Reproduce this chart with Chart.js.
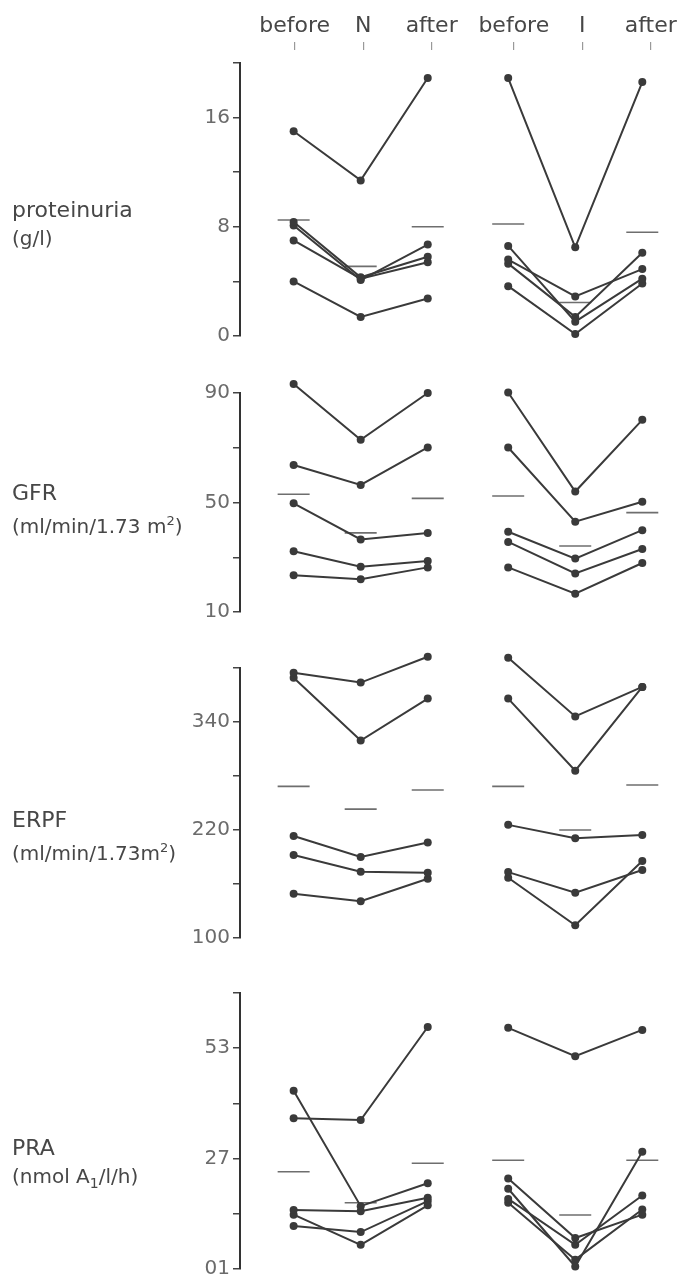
<!DOCTYPE html>
<html>
<head>
<meta charset="utf-8">
<script src="https://cdn.jsdelivr.net/npm/chart.js@4/dist/chart.umd.min.js"></script>
<style>
  body { margin: 0; background: #fff; width: 680px; height: 1279px; position: relative; overflow: hidden;
         font-family: "DejaVu Sans", sans-serif; color: #474747; }
  canvas { position: absolute; left: 0; }
  .lbl { position: absolute; left: 12px; font-size: 20px; line-height: 28px; white-space: nowrap; }
  .lbl b { font-weight: normal; font-size: 22px; }
</style>
</head>
<body>
<canvas id="head" width="680" height="60" style="top:0"></canvas>
<canvas id="c1" width="680" height="323" style="top:33px"></canvas>
<canvas id="c2" width="680" height="269" style="top:363px"></canvas>
<canvas id="c3" width="680" height="320" style="top:638px"></canvas>
<canvas id="c4" width="680" height="326" style="top:963px"></canvas>

<div class="lbl" style="top:196px"><b>proteinuria</b><br>(g/l)</div>
<div class="lbl" style="top:479px"><b>GFR</b><br>(ml/min/1.73 m<sup style="font-size:13px">2</sup>)</div>
<div class="lbl" style="top:806px"><b>ERPF</b><br>(ml/min/1.73m<sup style="font-size:13px">2</sup>)</div>
<div class="lbl" style="top:1134px"><b>PRA</b><br>(nmol A<sub style="font-size:14px">1</sub>/l/h)</div>

<script>
// column headings and where they sit on the x scale (N group, then I group)
const headings = ['before', 'N', 'after', 'before', 'I', 'after'];
const xPos = [0, 1, 2, 3.2, 4.2, 5.2];

// proteinuria (g/l): one row per patient, before / during / after
const protN = [[15.0, 11.4, 18.9], [8.35, 4.3, 5.8], [8.1, 4.1, 6.7], [7.0, 4.2, 5.4], [4.0, 1.4, 2.75]];
const protI = [[18.9, 6.5, 18.6], [6.6, 1.05, 4.2], [5.6, 2.9, 4.9], [5.3, 1.4, 6.1], [3.65, 0.15, 3.85]];
const protMeanN = [8.5, 5.1, 8.0];
const protMeanI = [8.2, 2.45, 7.6];
const protTicks = [0, 4, 8, 12, 16, 20];
const protLabels = ['0', '', '8', '', '16', ''];

// GFR (ml/min/1.73 m2)
const gfrN = [[93.3, 72.9, 90.0], [63.7, 56.4, 70.1], [49.7, 36.5, 38.9], [32.2, 26.5, 28.6], [23.4, 22.0, 26.3]];
const gfrI = [[90.2, 54.0, 80.2], [70.1, 43.0, 50.3], [39.3, 29.5, 39.9], [35.6, 24.1, 33.0], [26.3, 16.7, 27.9]];
const gfrMeanN = [53.0, 38.9, 51.5];
const gfrMeanI = [52.4, 34.1, 46.3];
const gfrTicks = [10, 30, 50, 70, 90];
const gfrLabels = ['10', '', '50', '', '90'];

// ERPF (ml/min/1.73 m2)
const erpfN = [[394.6, 383.8, 412.5], [389.1, 319.4, 366.0], [213.4, 190.0, 206.0], [192.2, 173.7, 172.5], [149.1, 140.8, 165.8]];
const erpfI = [[411.4, 346.2, 379.0], [366.0, 285.9, 379.0], [225.7, 210.8, 214.5], [173.2, 150.2, 175.5], [167.0, 114.1, 185.5]];
const erpfMeanN = [268.5, 243.2, 264.4];
const erpfMeanI = [268.5, 220.0, 270.0];
const erpfTicks = [100, 160, 220, 280, 340, 400];
const erpfLabels = ['100', '', '220', '', '340', ''];

// PRA (nmol A1/l/h)
const praN = [[43.0, 15.8, 21.2], [36.5, 36.1, 58.0], [14.9, 14.6, 17.8], [13.8, 6.7, 16.0], [11.1, 9.7, 17.0]];
const praI = [[57.8, 51.1, 57.3], [22.3, 8.3, 13.8], [19.9, 1.6, 28.6], [17.5, 6.7, 18.3], [16.6, 3.2, 15.0]];
const praMeanN = [23.9, 16.6, 25.9];
const praMeanI = [26.6, 13.7, 26.6];
const praTicks = [1, 14, 27, 40, 53, 66];
const praLabels = ['01', '', '27', '', '53', ''];

const FONT = '"DejaVu Sans", sans-serif';
const INK = '#3a3a3a';
const X_MIN = -0.8, X_MAX = 5.5;

// points that sit a little above the top tick would otherwise be skipped,
// so give the datasets some headroom while they are drawn
const headroom = {
  id: 'headroom',
  beforeDatasetsDraw(chart) { chart.$top = chart.chartArea.top; chart.chartArea.top -= 30; },
  afterDatasetsDraw(chart) { chart.chartArea.top = chart.$top; }
};

function patientLines(rows, offset) {
  return rows.map(r => ({
    data: r.map((v, i) => ({ x: xPos[offset + i], y: v })),
    showLine: true,
    borderColor: INK,
    backgroundColor: INK,
    borderWidth: 2,
    pointRadius: 4,
    pointBorderWidth: 0,
    clip: false
  }));
}

function meanBars(vals, offset) {
  return {
    data: vals.map((v, i) => ({ x: xPos[offset + i], y: v })),
    showLine: false,
    pointStyle: 'line',
    pointRadius: 16,
    borderColor: '#6e6e6e',
    borderWidth: 1.6,
    clip: false
  };
}

function panel(id, n, i, meanN, meanI, ticks, labels) {
  new Chart(document.getElementById(id), {
    type: 'scatter',
    data: {
      datasets: [...patientLines(n, 0), ...patientLines(i, 3), meanBars(meanN, 0), meanBars(meanI, 3)]
    },
    options: {
      responsive: false,
      animation: false,
      layout: { padding: { top: 30, bottom: 20, left: 0, right: 6 } },
      plugins: { legend: { display: false }, tooltip: { enabled: false } },
      scales: {
        x: { type: 'linear', min: X_MIN, max: X_MAX, display: false },
        y: {
          min: ticks[0],
          max: ticks[ticks.length - 1],
          afterFit: s => { s.width = 240; },
          afterBuildTicks: s => { s.ticks = ticks.map(v => ({ value: v })); },
          ticks: {
            autoSkip: false,
            padding: 3,
            color: '#6b6b6b',
            font: { family: FONT, size: 20 },
            callback: v => labels[ticks.indexOf(v)] ?? ''
          },
          grid: { drawOnChartArea: false, tickLength: 7, color: '#444', lineWidth: 1.5 },
          border: { display: true, color: '#333', width: 2 }
        }
      }
    },
    plugins: [headroom]
  });
}

// column headings across the top
new Chart(document.getElementById('head'), {
  type: 'scatter',
  data: { datasets: [] },
  options: {
    responsive: false,
    animation: false,
    layout: { padding: { top: 0, bottom: 0, left: 240, right: 6 } },
    plugins: { legend: { display: false }, tooltip: { enabled: false } },
    scales: {
      x: {
        type: 'linear',
        position: 'top',
        min: X_MIN,
        max: X_MAX,
        afterFit: s => { s.height = 50; },
        afterBuildTicks: s => { s.ticks = xPos.map(v => ({ value: v })); },
        ticks: {
          autoSkip: false,
          maxRotation: 0,
          padding: 3,
          color: '#474747',
          font: { family: FONT, size: 22 },
          callback: v => headings[xPos.indexOf(v)] ?? ''
        },
        grid: { drawOnChartArea: false, tickLength: 8, color: '#999', lineWidth: 1.2 },
        border: { display: false }
      },
      y: { display: false, min: 0, max: 1 }
    }
  }
});

panel('c1', protN, protI, protMeanN, protMeanI, protTicks, protLabels);
panel('c2', gfrN, gfrI, gfrMeanN, gfrMeanI, gfrTicks, gfrLabels);
panel('c3', erpfN, erpfI, erpfMeanN, erpfMeanI, erpfTicks, erpfLabels);
panel('c4', praN, praI, praMeanN, praMeanI, praTicks, praLabels);
</script>
</body>
</html>
